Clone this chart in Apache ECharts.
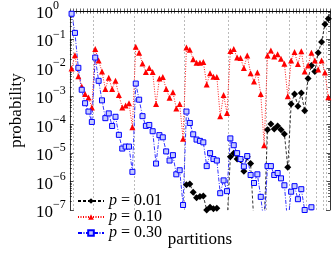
<!DOCTYPE html>
<html><head><meta charset="utf-8">
<script src="https://cdn.jsdelivr.net/npm/echarts@6/dist/echarts.min.js"></script>
<style>html,body{margin:0;padding:0;background:#fff}#c{width:332px;height:253px}</style>
</head><body><div id="c"></div>
<script>
// partition index (partitions of 12, grouped by number of parts)
const partitions = Array.from({length: 77}, (_, k) => k + 1);
// boundaries between groups with the same number of parts
const groupBoundaries = [1.5, 7.5, 19.5, 34.5, 47.5, 58.5, 65.5, 70.5, 73.5, 75.5, 76.5];
const seriesLabels = ['0.01', '0.10', '0.30'];
const decadeTicks = [-7, -6, -5, -4, -3, -2, -1, 0];
const minorTicks = [];
for (let e = -7; e < 0; e++) for (let m = 2; m <= 9; m++) minorTicks.push(e + Math.log10(m));

const B = 3e-8; // below the plotted range (line leaves the frame)
const p001 = [
 null,null,null,null,null,null,null,null,null,null,
 null,null,null,null,null,null,null,null,null,null,
 null,null,null,null,null,null,null,null,null,null,
 null,null,null,null,7.8e-7,8.2e-7,4.2e-7,2.7e-7,3.0e-7,3.1e-7,
 1.0e-7,1.25e-7,1.1e-7,1.15e-7,B,B,B,7.4e-6,1.0e-5,6.2e-6,
 5.8e-6,2.3e-6,7.4e-6,4.3e-6,B,B,B,B,6.6e-5,1.07e-4,
 7.1e-5,9.1e-5,6.6e-5,4.7e-5,3.2e-6,5.3e-4,1.2e-3,4.5e-4,1.3e-3,3.1e-4,
 4.2e-3,0.012,7.4e-3,0.034,0.081,0.34,0.53
];
const p010 = [
 0.0094,0.028,0.0051,0.0022,0.0012,0.0009,0.0004,0.046,0.018,0.0074,
 0.0018,0.0045,0.0018,0.0035,0.0011,0.0004,0.00047,0.00057,0.000081,0.055,
 0.034,0.0142,0.0071,0.0099,0.0071,0.00053,0.0042,0.0048,0.0018,0.00089,
 0.0014,0.00037,0.00053,0.000032,0.052,0.043,0.020,0.015,0.015,0.016,
 0.0026,0.0065,0.0049,0.0048,0.0002,0.0011,0.00026,0.039,0.046,0.023,
 0.022,0.0099,0.027,0.0065,0.0033,0.0069,0.0012,0.000019,0.027,0.041,
 0.025,0.030,0.021,0.014,0.0010,0.018,0.036,0.0136,0.038,0.0074,
 0.012,0.034,0.018,0.0088,0.018,0.0069,0.00093
];
const p030 = [
 0.80,0.17,0.010,0.0017,0.00057,0.00029,0.000125,0.023,0.0035,0.00072,
 0.00017,0.00025,0.00009,0.00019,0.000044,0.0000145,0.000017,0.000017,0.0000022,0.0028,
 0.00076,0.0002,0.000091,0.000098,0.000059,0.0000043,0.000043,0.000036,0.0000115,0.0000055,
 0.0000085,0.0000018,0.0000025,0.00000015,0.00029,0.000115,0.000046,0.00003,0.000027,0.000024,
 0.0000035,0.00001,0.0000062,0.0000055,0.00000039,0.0000011,0.00000046,0.000033,0.000019,0.00001,
 0.0000062,0.0000034,0.0000079,0.0000017,0.00000089,0.0000018,0.00000029,B,0.0000035,0.0000035,
 0.0000017,0.000002,0.0000013,0.00000074,B,0.00000044,0.00000069,0.00000024,0.00000054,0.0000001,
 B,0.000000125,B,null,null,null,null
];

const FONT = 'Liberation Serif';
const pairs = arr => partitions.map((x, k) => [x, arr[k]]);
const sup = e => (e < 0 ? '\u2212' + (-e) : '' + e);

const chart = echarts.init(document.getElementById('c'), null, {renderer: 'canvas'});
const tickAxisBase = {type: 'value', min: -7, max: 0, splitLine: {show: false}};
const xBase = {type: 'value', min: 0.5, max: 77.5, interval: 1, splitLine: {show: false},
  axisLabel: {show: false}, axisLine: {lineStyle: {color: '#000', width: 0.8}},
  axisTick: {inside: true, length: 2.5, lineStyle: {color: '#000', width: 0.6}}};
chart.setOption({
  animation: false,
  grid: {left: 61, right: 2, top: 8, bottom: 25, containLabel: false},
  xAxis: [
    Object.assign({}, xBase, {position: 'bottom', name: 'partitions', nameLocation: 'middle', nameGap: 21,
      nameTextStyle: {fontFamily: FONT, fontSize: 17, color: '#000'}}),
    Object.assign({}, xBase, {position: 'top'})
  ],
  yAxis: [
    {type: 'log', logBase: 10, min: 1e-7, max: 1, show: false},
    Object.assign({}, tickAxisBase, {position: 'left', interval: 1,
      axisLine: {show: true, lineStyle: {color: '#000', width: 0.8}},
      axisTick: {inside: true, length: 4, lineStyle: {color: '#000', width: 0.7}},
      axisLabel: {show: true, align: 'left', margin: 34, color: '#000',
        formatter: v => '{b|10}{s|' + sup(Math.round(v)) + '}',
        rich: {b: {fontFamily: FONT, fontSize: 17, lineHeight: 22, verticalAlign: 'bottom', color: '#000'},
               s: {fontFamily: FONT, fontSize: 12, lineHeight: 14, verticalAlign: 'top', color: '#000'}}},
      name: 'probability', nameLocation: 'middle', nameGap: 42, nameRotate: 90,
      nameTextStyle: {fontFamily: FONT, fontSize: 17, color: '#000'}}),
    Object.assign({}, tickAxisBase, {position: 'left', axisLine: {show: false}, axisLabel: {show: false},
      axisTick: {inside: true, length: 2, customValues: minorTicks, lineStyle: {color: '#000', width: 0.6}}}),
    Object.assign({}, tickAxisBase, {position: 'right', interval: 1,
      axisLine: {show: true, lineStyle: {color: '#000', width: 0.8}}, axisLabel: {show: false},
      axisTick: {inside: true, length: 4, lineStyle: {color: '#000', width: 0.7}}}),
    Object.assign({}, tickAxisBase, {position: 'right', axisLine: {show: false}, axisLabel: {show: false},
      axisTick: {inside: true, length: 2, customValues: minorTicks, lineStyle: {color: '#000', width: 0.6}}})
  ],
  legend: {
    orient: 'vertical', left: 72, top: 188, itemWidth: 26, itemHeight: 7, itemGap: 0,
    formatter: name => '{i|p} = ' + name,
    textStyle: {fontFamily: FONT, fontSize: 16, lineHeight: 11, color: '#000',
      rich: {i: {fontFamily: FONT, fontSize: 16, fontStyle: 'italic', lineHeight: 11, color: '#000'}}},
    data: seriesLabels
  },
  series: [
    {name: seriesLabels[0], type: 'line', yAxisIndex: 0, data: pairs(p001), clip: true,
     symbol: 'diamond', symbolSize: 7, itemStyle: {color: '#000'},
     lineStyle: {color: '#000', width: 0.8, type: [3, 2]},
     markLine: {silent: true, symbol: ['none', 'none'], label: {show: false}, z: 1,
       lineStyle: {color: '#aaa', width: 0.8, type: [2, 2]},
       data: groupBoundaries.map(x => ({xAxis: x}))}},
    {name: seriesLabels[1], type: 'line', yAxisIndex: 0, data: pairs(p010), clip: true,
     symbol: 'triangle', symbolSize: 6, itemStyle: {color: '#ff0000'},
     lineStyle: {color: '#ff0000', width: 0.9, type: [1, 1.5]}},
    {name: seriesLabels[2], type: 'line', yAxisIndex: 0, data: pairs(p030), clip: true,
     symbol: 'rect', symbolSize: 5, itemStyle: {color: '#c4caff', borderColor: '#0000ff', borderWidth: 1},
     lineStyle: {color: '#0000ff', width: 0.8, type: [4, 1.5, 1, 1.5]}}
  ]
});
</script></body></html>
